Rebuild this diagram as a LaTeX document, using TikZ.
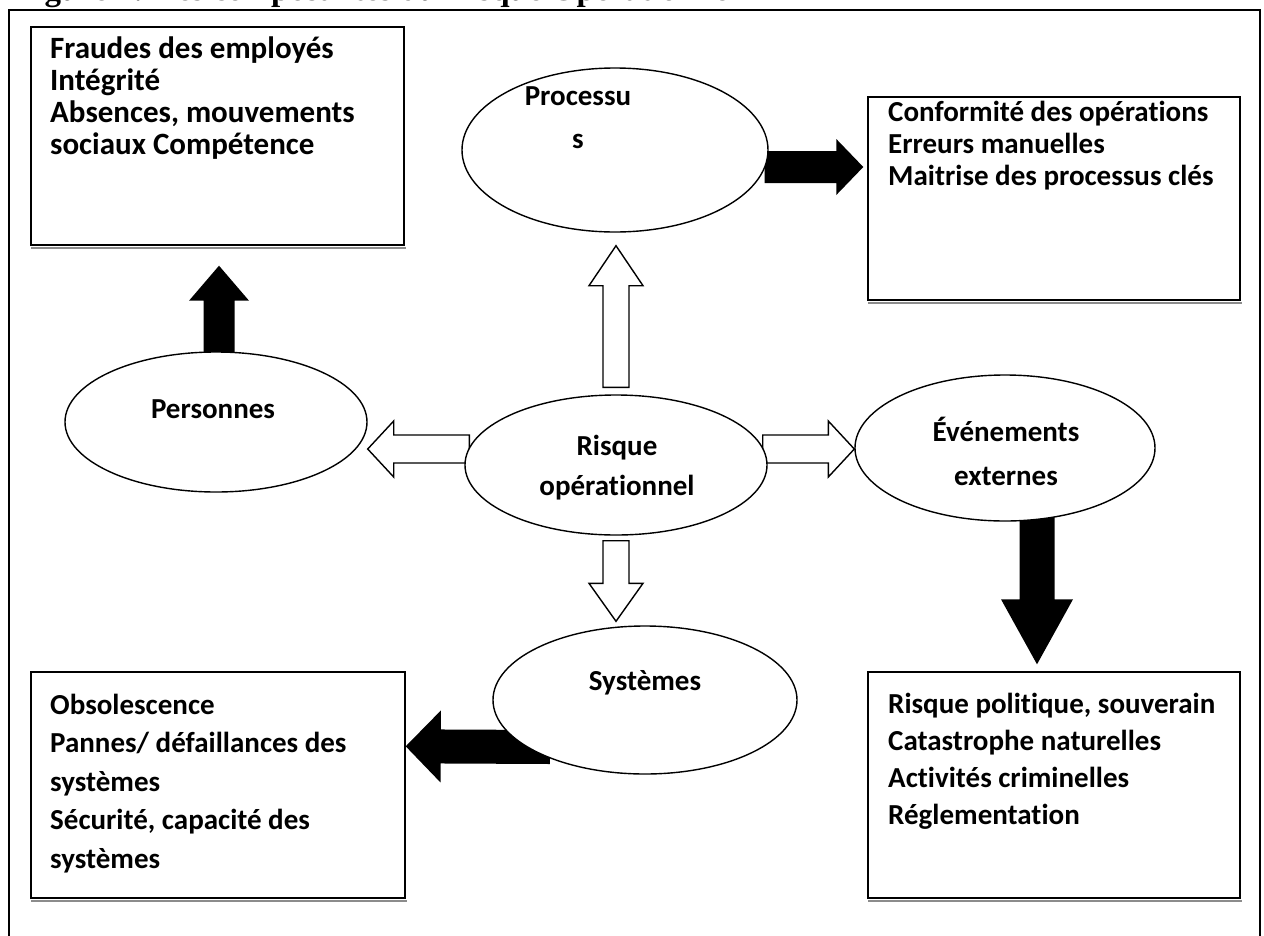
\documentclass[tikz,border=0pt]{standalone}
\usepackage{fontspec}
\setmainfont{Carlito}[Ligatures=NoCommon]
\newfontfamily\captionfont{Liberation Serif}
\usetikzlibrary{shapes.geometric,calc,backgrounds}

% block arrow from #2 to #3: #4 half shaft width, #5 half head width, #6 head length
\newcommand\blockarrow[6]{%
  \coordinate (neck) at ($(#3)!#6!(#2)$);
  \path[#1] ($(#2)!#4!90:(#3)$) -- ($(neck)!#4!90:(#3)$) -- ($(neck)!#5!90:(#3)$) -- (#3)
    -- ($(neck)!#5!-90:(#3)$) -- ($(neck)!#4!-90:(#3)$) -- ($(#2)!#4!-90:(#3)$) -- cycle;}

\begin{document}
\begin{tikzpicture}[x=1pt,y=-1pt,
  bubble/.style={draw, line width=1.4pt, ellipse, fill=white, minimum width=302pt, inner sep=0pt},
  panel/.style={draw, line width=1.4pt, fill=white, rectangle, inner sep=0pt},
  lbl/.style={font=\fontsize{29}{#1}\selectfont\bfseries, inner sep=0pt},
  lbl/.default=43,
  lines/.style={lbl=#1, align=left, anchor=base west},
  hollow/.style={draw, line width=1.4pt, fill=white, line join=miter},
  filled/.style={fill=black},
  shadow/.style={draw=black!45, line width=1.6pt},
]
\useasboundingbox (0,0) rectangle (1264,935);

% caption, cut by the top edge
\node[font=\captionfont\bfseries\fontsize{33}{33}\selectfont, anchor=base west, inner sep=0pt]
  (caption) at (15,0) {Figure 4: Les composantes du Risque Opérationnel};

% outer frame
\draw[line width=2pt] (9,945) -- (9,10) -- (1260,10) -- (1260,945);

% the four description panels
\node[panel, minimum width=373pt, minimum height=218pt] (tl) at (217.5,136) {};
\node[panel, minimum width=372pt, minimum height=203pt] (tr) at (1054,198.5) {};
\node[panel, minimum width=374pt, minimum height=226pt] (bl) at (218,785) {};
\node[panel, minimum width=372pt, minimum height=226pt] (br) at (1054,785) {};

% multi-line texts are placed by the baseline of their last line
\node[lines=32, font=\fontsize{31}{32}\selectfont\bfseries] (tl-text) at (50,154)
  {Fraudes des employés\\Intégrité\\Absences, mouvements\\sociaux Compétence};
\node[lines=32] (tr-text) at (888,185) {Conformité des opérations\\Erreurs manuelles\\Maitrise des processus clés};
\node[lines=38.5] (bl-text) at (50,868) {Obsolescence\\Pannes/ défaillances des\\systèmes\\Sécurité, capacité des\\systèmes};
\node[lines=37] (br-text) at (888,824) {Risque politique, souverain\\Catastrophe naturelles\\Activités criminelles\\Réglementation};

% the five risk families
\node[bubble, minimum width=306pt, minimum height=164pt] (proc) at (615,150) {};
\node[bubble, minimum height=140pt] (pers) at (216,422) {};
\node[bubble, minimum height=140pt] (risk) at (616,465) {};
\node[bubble, minimum width=300pt, minimum height=146pt] (ext) at (1005,448) {};
\node[bubble, minimum width=304pt, minimum height=148pt] (sys) at (645,700) {};

\node[lbl, align=center, anchor=base] (proc-text) at (578,148) {Processu\\s};
\node[lbl, anchor=base] (pers-text) at (213,418) {Personnes};
\node[lbl=40, align=center, anchor=base] (risk-text) at (617,495) {Risque\\opérationnel};
\node[lbl=44, align=center, anchor=base] (ext-text) at (1006,485) {Événements\\externes};
\node[lbl, anchor=base] (sys-text) at (645,690) {Systèmes};

% arrow end points
\coordinate (up-s)   at ($(risk.north)+(0pt,7pt)$);
\coordinate (up-e)   at ($(proc.south)+(1pt,-13pt)$);
\coordinate (lf-s)   at ($(risk.west)+(5pt,16pt)$);
\coordinate (lf-e)   at ($(pers.east)+(0pt,-27pt)$);
\coordinate (rt-s)   at ($(risk.east)+(-5pt,16pt)$);
\coordinate (rt-e)   at ($(ext.west)+(0pt,-1pt)$);
\coordinate (dn-s)   at ($(risk.south)+(0pt,-5pt)$);
\coordinate (dn-e)   at ($(sys.north)+(-29pt,4pt)$);
\coordinate (pers-s) at ($(pers.north)+(3pt,-4pt)$);
\coordinate (pers-e) at ($(tl.south)+(1.5pt,-20pt)$);
\coordinate (proc-s) at ($(proc.east)+(-4pt,-17pt)$);
\coordinate (proc-e) at ($(tr.west |- proc-s)+(-4pt,0pt)$);
\coordinate (ext-s)  at ($(ext.center)+(32pt,-67pt)$);
\coordinate (ext-e)  at ($(br.north)+(-17pt,7pt)$);
\coordinate (sys-s)  at ($(sys.center)+(-95pt,-47pt)$);
\coordinate (sys-e)  at ($(bl.north east)+(0pt,-75pt)$);

\begin{scope}[on background layer]
  % shadows under the panels
  \foreach \p in {tl,tr,bl,br}
    \draw[shadow] ([yshift=-2pt,xshift=1pt]\p.south west) -- ([yshift=-2pt,xshift=1pt]\p.south east);
  % hollow arrows from the central risk
  \blockarrow{hollow}{up-s}{up-e}{13pt}{27pt}{40pt}
  \blockarrow{hollow}{lf-s}{lf-e}{14pt}{28pt}{26pt}
  \blockarrow{hollow}{rt-s}{rt-e}{14pt}{28pt}{26pt}
  \blockarrow{hollow}{dn-s}{dn-e}{13pt}{27pt}{38pt}
  % solid arrows towards the descriptions
  \blockarrow{filled}{pers-s}{pers-e}{15.5pt}{30pt}{35pt}
  \blockarrow{filled}{proc-s}{proc-e}{16pt}{28pt}{27pt}
  \blockarrow{filled}{ext-s}{ext-e}{17.5pt}{36pt}{65pt}
  \blockarrow{filled}{sys-s}{sys-e}{17pt}{36pt}{35pt}
\end{scope}
\end{tikzpicture}
\end{document}
